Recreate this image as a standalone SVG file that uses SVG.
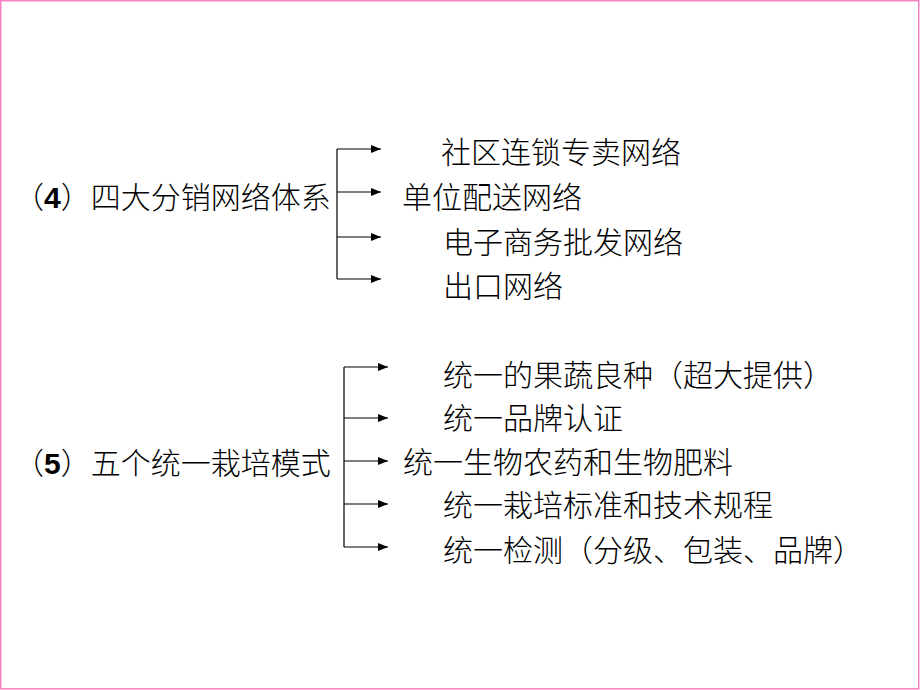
<svg xmlns="http://www.w3.org/2000/svg" width="920" height="690" viewBox="0 0 920 690">
<style>
  .t { font-family: "Liberation Sans", "Noto Sans CJK SC", sans-serif; font-size: 30px; font-weight: 300; fill: #000; dominant-baseline: central; }
  .d { font-weight: bold; }
  .ln { stroke: #000; stroke-width: 1.2; fill: none; }
</style>
<defs>
  <marker id="ah" markerWidth="11" markerHeight="9" refX="10" refY="4.5" orient="auto" markerUnits="userSpaceOnUse">
    <path d="M0,0.5 L10,4.5 L0,8.5 Z" fill="#000"/>
  </marker>
</defs>
<rect x="0.75" y="0.75" width="918" height="688" fill="#fff" stroke="#f882c0" stroke-width="1.5"/>

<g id="connectors">
  <line class="ln" x1="337" y1="149" x2="337" y2="279"/>
  <line class="ln" x1="337" y1="149" x2="381" y2="149" marker-end="url(#ah)"/>
  <line class="ln" x1="337" y1="192" x2="381" y2="192" marker-end="url(#ah)"/>
  <line class="ln" x1="337" y1="237" x2="381" y2="237" marker-end="url(#ah)"/>
  <line class="ln" x1="337" y1="279" x2="381" y2="279" marker-end="url(#ah)"/>

  <line class="ln" x1="344" y1="367" x2="388" y2="367" marker-end="url(#ah)"/>
  <line class="ln" x1="344" y1="367" x2="344" y2="547"/>
  <line class="ln" x1="344" y1="418" x2="388" y2="418" marker-end="url(#ah)"/>
  <line class="ln" x1="344" y1="461" x2="388" y2="461" marker-end="url(#ah)"/>
  <line class="ln" x1="344" y1="504" x2="388" y2="504" marker-end="url(#ah)"/>
  <line class="ln" x1="344" y1="547" x2="388" y2="547" marker-end="url(#ah)"/>
</g>

<g id="n4"><text class="t" x="14" y="197">（<tspan class="d">4</tspan>）四大分销网络体系</text></g>
<g id="n4a"><text class="t" x="441" y="152">社区连锁专卖网络</text></g>
<g id="n4b"><text class="t" x="402" y="197">单位配送网络</text></g>
<g id="n4c"><text class="t" x="443" y="242">电子商务批发网络</text></g>
<g id="n4d"><text class="t" x="443" y="286">出口网络</text></g>

<g id="n5"><text class="t" x="14" y="463">（<tspan class="d">5</tspan>）五个统一栽培模式</text></g>
<g id="n5a"><text class="t" x="443" y="375">统一的果蔬良种（超大提供）</text></g>
<g id="n5b"><text class="t" x="443" y="418">统一品牌认证</text></g>
<g id="n5c"><text class="t" x="403" y="462">统一生物农药和生物肥料</text></g>
<g id="n5d"><text class="t" x="443" y="505">统一栽培标准和技术规程</text></g>
<g id="n5e"><text class="t" x="443" y="550">统一检测（分级、包装、品牌）</text></g>
</svg>
